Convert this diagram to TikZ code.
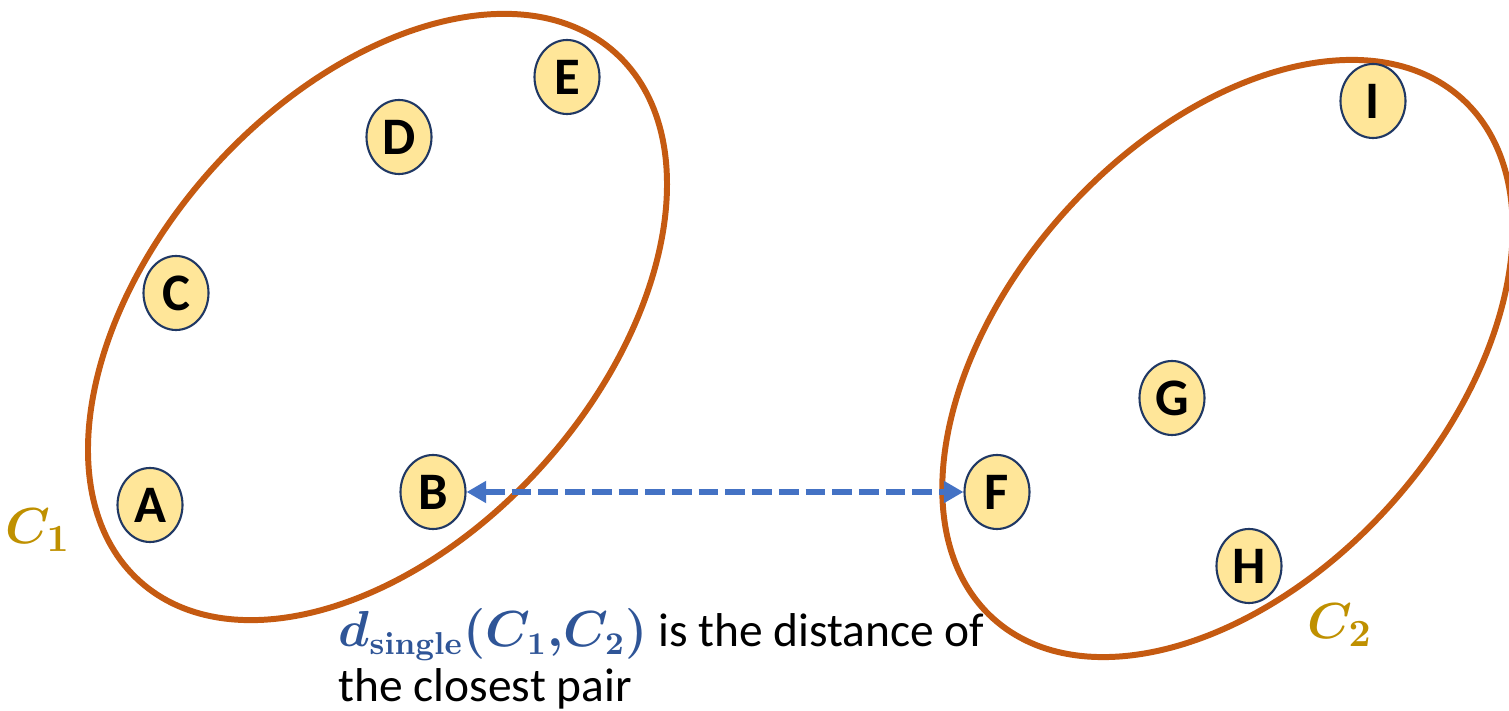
\documentclass[tikz,border=0pt]{standalone}
\usepackage{amsmath}
\usepackage[no-math]{fontspec}
\setmainfont{Carlito}
\usepackage{tikz}
\usetikzlibrary{shapes.geometric, positioning, arrows.meta}
\definecolor{clusterorange}{HTML}{C55A11}
\definecolor{pointfill}{HTML}{FFE699}
\definecolor{pointborder}{HTML}{203864}
\definecolor{pairblue}{HTML}{4472C4}
\definecolor{mathblue}{HTML}{2F5597}
\definecolor{labelgold}{HTML}{BF9000}
\tikzset{
  cluster/.style={draw=clusterorange, line width=1.7pt},
  point/.style={ellipse, draw=pointborder, fill=pointfill, line width=0.6pt, minimum width=0.65cm, minimum height=0.74cm, inner sep=0pt, font=\fontsize{15}{18}\selectfont\bfseries},
  pairarrow/.style={draw=pairblue, line width=1.8pt, dash pattern=on 5.6pt off 2pt, {Triangle[length=5.6pt,width=6pt]}-{Triangle[length=5.6pt,width=6pt]}},
  clusterlabel/.style={text=labelgold, font=\fontsize{15}{18}\selectfont\boldmath}
}

\begin{document}
\begin{tikzpicture}
    \useasboundingbox (0,0) rectangle (15.09,-7.11);

    % Dos clusters (elipses giradas)
    \draw[cluster, rotate around={48:(3.775,-3.17)}] (3.775,-3.17) ellipse [x radius=3.555, y radius=2.22];
    \draw[cluster, rotate around={48:(12.275,-3.585)}] (12.275,-3.585) ellipse [x radius=3.50, y radius=2.19];

    % Puntos de datos
    \foreach \name/\x/\y in {
        A/1.50/-5.05, B/4.33/-4.92, C/1.76/-2.93, D/3.99/-1.37, E/5.67/-0.77,
        F/9.97/-4.92, G/11.72/-3.98, H/12.49/-5.66, I/13.73/-1.01
    } {
        \node[point] (\name) at (\x,\y) {\name};
    }

    % Etiquetas de los clusters
    \node[clusterlabel] (labelC1) at (0.38,-5.30) {$C_1$};
    \node[clusterlabel] (labelC2) at (13.40,-6.25) {$C_2$};

    % Par mas cercano
    \draw[pairarrow] (B) -- (F);
    \node[anchor=north west, align=left, inner sep=0pt, font=\fontsize{13.5}{15.5}\selectfont] (note) at (3.38,-6.08)
        {{\color{mathblue}\boldmath$d_{\mathbf{single}}(C_1,\!C_2)$} is the distance of\\the closest pair};

\end{tikzpicture}
\end{document}
